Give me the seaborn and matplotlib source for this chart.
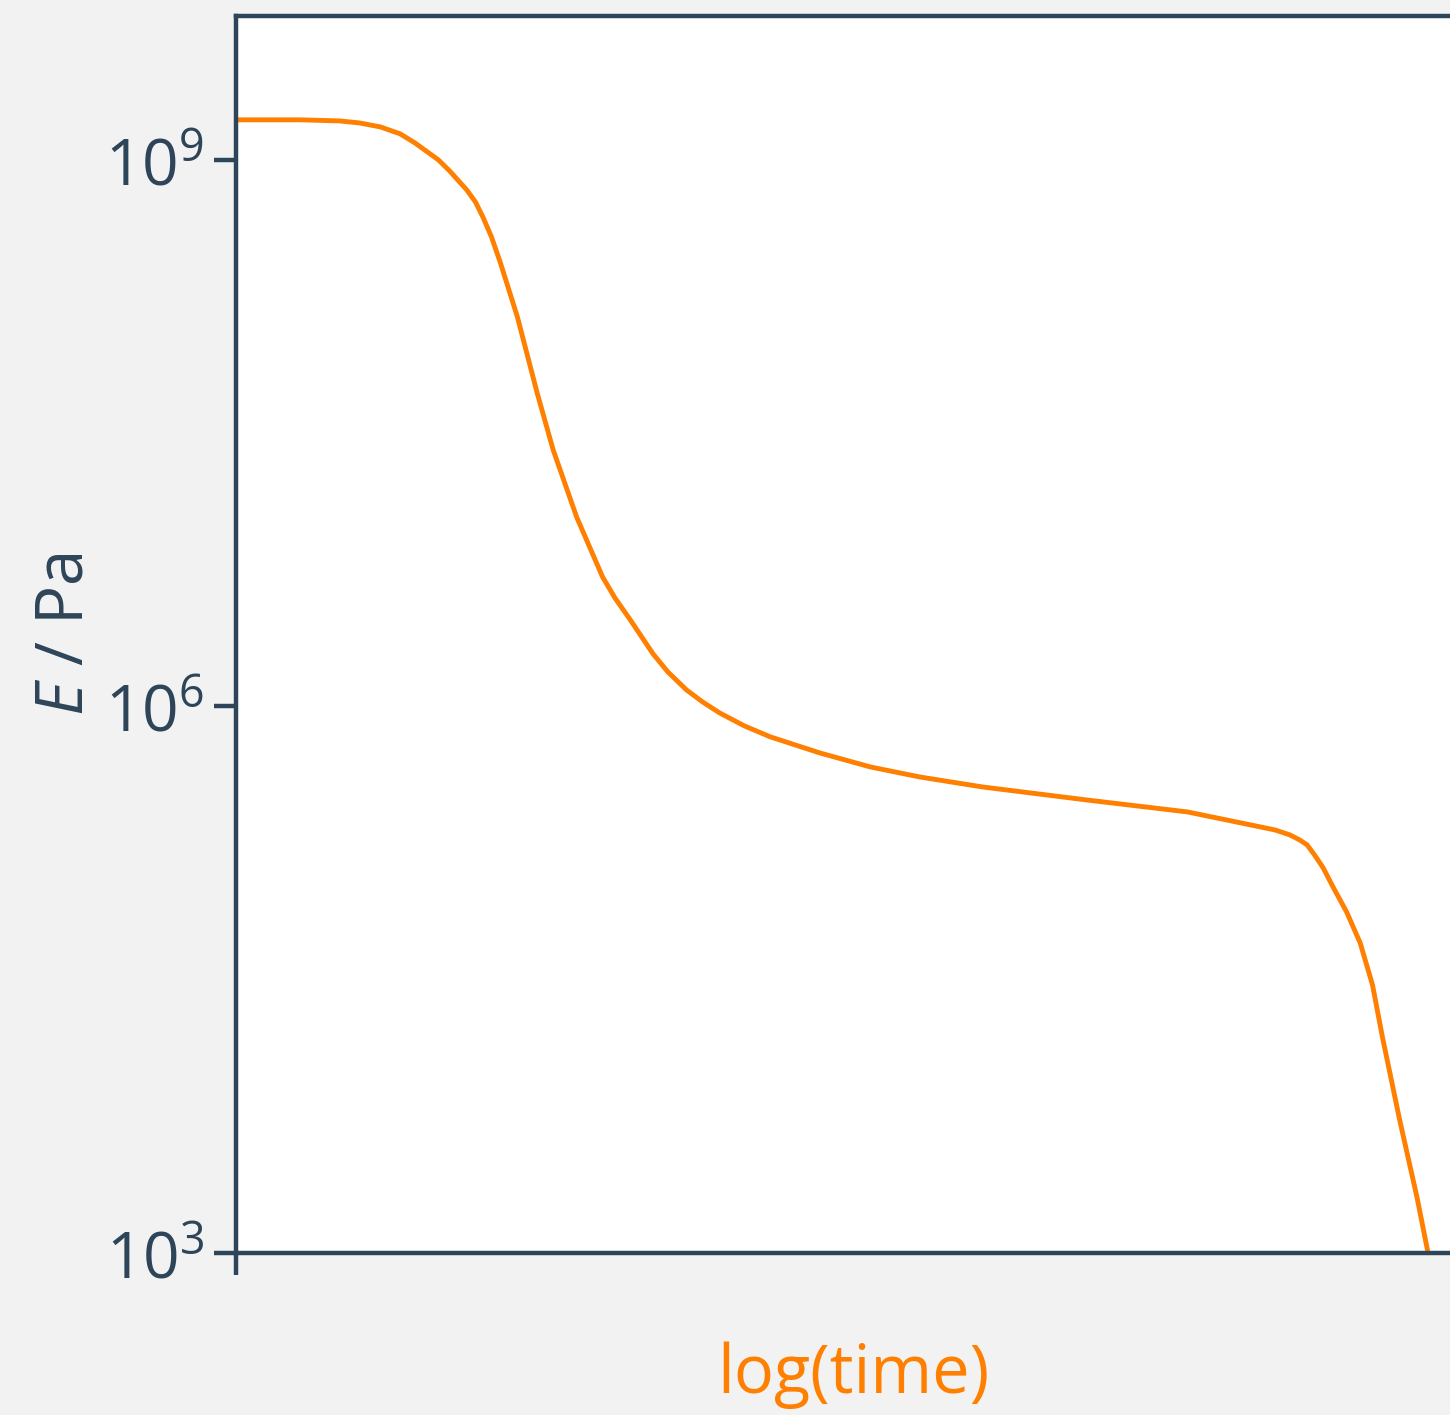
import numpy as np
import pandas as pd
import seaborn as sns
import matplotlib.pyplot as plt

# values (log time in arbitrary units, modulus as log10 Pa)
log_time = [0.00, 0.28, 0.52, 0.84, 1.00, 1.17, 1.33, 1.45, 1.64, 1.73,
            1.87, 1.94, 2.00, 2.07, 2.14, 2.28, 2.44, 2.57, 2.76, 2.97,
            3.07, 3.19, 3.38, 3.50, 3.65, 3.78, 3.92, 4.12, 4.33,
            4.73, 5.14, 5.54, 6.05, 6.89, 7.71, 8.22, 8.42, 8.54, 8.62,
            8.68, 8.74, 8.81, 8.89, 9.00, 9.11, 9.21, 9.29, 9.43, 9.57,
            9.66]
log_modulus = [9.220, 9.220, 9.220, 9.214, 9.203, 9.181, 9.143, 9.093, 9.000, 8.940,
               8.835, 8.769, 8.687, 8.577, 8.440, 8.138, 7.721, 7.408, 7.040, 6.711,
               6.596, 6.480, 6.288, 6.189, 6.091, 6.025, 5.964, 5.893, 5.833,
               5.745, 5.668, 5.613, 5.558, 5.487, 5.421, 5.350, 5.322, 5.295, 5.267,
               5.240, 5.185, 5.114, 5.009, 4.872, 4.702, 4.471, 4.186, 3.730, 3.307,
               3.000]
y_ticks = [1e3, 1e6, 1e9]
y_tick_labels = [r"$10^3$", r"$10^6$", r"$10^9$"]

df = pd.DataFrame({"log_time": log_time, "E": 10 ** np.array(log_modulus)})

navy = "#2e4559"
orange = "#ff7f00"

sns.set_theme(style="white")
plt.rcParams["font.family"] = ["Open Sans", "DejaVu Sans"]
plt.rcParams["mathtext.fontset"] = "custom"
plt.rcParams["mathtext.rm"] = "Open Sans"
plt.rcParams["mathtext.it"] = "Open Sans:italic"

fig = plt.figure(figsize=(14.5, 14.15), dpi=100, facecolor="#f2f2f2")
ax = fig.add_axes([0.1628, 0.1145, 0.851, 0.8742])
ax.set_facecolor("white")

sns.lineplot(data=df, x="log_time", y="E", color=orange, linewidth=3.5,
             solid_joinstyle="round", ax=ax)

ax.set_yscale("log")
ax.set_xlim(0, 10)
ax.set_ylim(1e3, 10 ** 9.79)
ax.set_yticks(y_ticks)
ax.set_yticklabels(y_tick_labels)
ax.minorticks_off()
ax.set_xticks([0])
ax.set_xticklabels([""])

for side in ["left", "bottom", "top", "right"]:
    ax.spines[side].set_color(navy)
    ax.spines[side].set_linewidth(3.2)
ax.tick_params(axis="both", which="major", length=16, width=3.2, color=navy,
               labelcolor=navy, labelsize=46, pad=7, direction="out")
ax.tick_params(axis="y", left=True)
ax.tick_params(axis="x", bottom=True)

ax.set_xlabel("log(time)", color=orange, fontsize=48)
ax.xaxis.label.set_va("center")
ax.xaxis.set_label_coords(0.5, -0.099)

ax.set_ylabel(r"$E$ / Pa", color=navy, fontsize=47)
ax.yaxis.label.set_va("center")
ax.yaxis.set_label_coords(-0.1386, 0.5)

fig.savefig("out.png", dpi=100, facecolor=fig.get_facecolor())
